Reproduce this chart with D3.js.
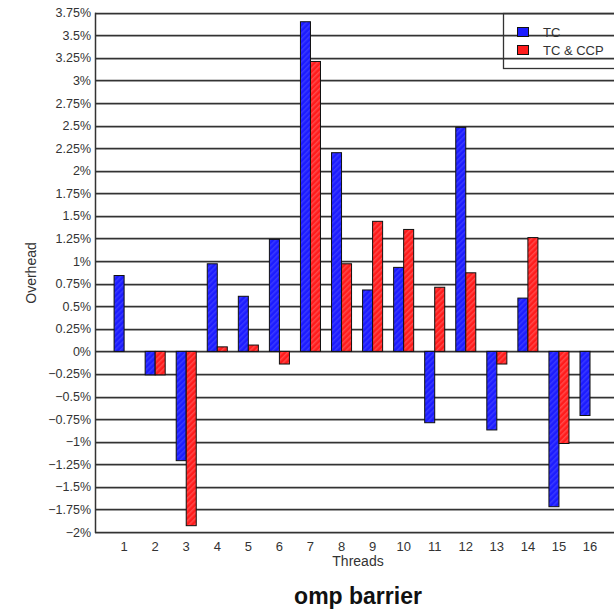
<!DOCTYPE html>
<html><head><meta charset="utf-8">
<script src="https://cdn.jsdelivr.net/npm/d3@7"></script>
<style>body{margin:0;background:#fff}svg{display:block}</style>
</head><body>
<script>
const categories = ["1","2","3","4","5","6","7","8","9","10","11","12","13","14","15","16"];
const tcValues  = [0.84,-0.26,-1.21,0.97,0.61,1.24,3.65,2.20,0.68,0.93,-0.79,2.48,-0.87,0.59,-1.72,-0.71];
const ccpValues = [0,-0.26,-1.93,0.05,0.07,-0.14,3.21,0.97,1.44,1.35,0.71,0.87,-0.14,1.26,-1.02,0];
const seriesNames = ["TC","TC & CCP"];
const yTicks = d3.range(-2, 3.76, 0.25);

(function(){
const W = 614, H = 612;
const svg = d3.select("body").append("svg").attr("width", W).attr("height", H);
const font = "Liberation Sans, Arial, sans-serif";

const defs = svg.append("defs");
function hatch(id, base, stripe){
  const p = defs.append("pattern").attr("id", id).attr("patternUnits","userSpaceOnUse")
    .attr("width",4).attr("height",4).attr("patternTransform","rotate(45)");
  p.append("rect").attr("width",4).attr("height",4).attr("fill",base);
  p.append("rect").attr("width",1.5).attr("height",4).attr("fill",stripe);
}
hatch("hb","#1c1cff","#3a3aff");
hatch("hr","#ff1c1c","#ff4a4a");
const fills = ["url(#hb)","url(#hr)"];
const swatch = ["#1c1cff","#ff1c1c"];

const pl = 95, pt = 12.7, pb = 532, pr = 640;
const y = d3.scaleLinear().domain([-2, 3.75]).range([pb, pt]);
const x = d3.scaleBand().domain(categories).range([108.5, 108.5 + 31.07*16]).paddingInner(0.355).paddingOuter(0.18);
const xs = d3.scaleBand().domain([0,1]).range([0, x.bandwidth()]);

const g = svg.append("g");
yTicks.forEach(t => {
  const yy = Math.round(y(t));
  g.append("line").attr("x1",pl).attr("x2",pr).attr("y1",yy+1.5).attr("y2",yy+1.5)
    .attr("stroke","#c0c0c0").attr("stroke-width",1);
  g.append("line").attr("x1",pl).attr("x2",pr).attr("y1",yy+0.5).attr("y2",yy+0.5)
    .attr("stroke","#333").attr("stroke-width",1.3);
});

const yAxis = d3.axisLeft(y).tickValues(yTicks).tickSize(0).tickPadding(4)
  .tickFormat(d => { const v = Math.round(d*100)/100; return (v<0?"\u2212":"") + Math.abs(v) + "%"; });
const ya = svg.append("g").attr("transform",`translate(${pl},0)`).call(yAxis);
ya.select(".domain").remove();
ya.selectAll("text").attr("font-family",font).attr("font-size",12.5).attr("fill","#333");
svg.append("line").attr("x1",pl+0.5).attr("x2",pl+0.5).attr("y1",pt).attr("y2",pb+1)
  .attr("stroke","#333").attr("stroke-width",1.5);

const xAxis = d3.axisBottom(x).tickSize(0).tickPadding(10);
const xa = svg.append("g").attr("transform",`translate(0,${pb})`).call(xAxis);
xa.select(".domain").remove();
xa.selectAll("text").attr("font-family",font).attr("font-size",13).attr("fill","#333");

const series = [tcValues, ccpValues];
series.forEach((vals, si) => {
  svg.append("g").selectAll("rect").data(vals.map((v,i)=>({v, c:categories[i]})).filter(d=>d.v!==0))
    .join("rect")
    .attr("x", d => x(d.c) + xs(si))
    .attr("width", xs.bandwidth())
    .attr("y", d => y(Math.max(0,d.v)))
    .attr("height", d => Math.abs(y(d.v) - y(0)))
    .attr("fill", fills[si]).attr("stroke","#111").attr("stroke-width",1);
});

svg.append("text").attr("x",358).attr("y",566).attr("text-anchor","middle")
  .attr("font-family",font).attr("font-size",14).attr("fill","#333").text("Threads");
svg.append("text").attr("transform","translate(36,273) rotate(-90)").attr("text-anchor","middle")
  .attr("font-family",font).attr("font-size",14).attr("fill","#333").text("Overhead");
svg.append("text").attr("x",358).attr("y",604).attr("text-anchor","middle")
  .attr("font-family",font).attr("font-size",23).attr("font-weight","bold").attr("fill","#111").text("omp barrier");

const lg = svg.append("g");
lg.append("rect").attr("x",503.5).attr("y",13.5).attr("width",140).attr("height",55)
  .attr("fill","none").attr("stroke","#333").attr("stroke-width",1.3);
seriesNames.forEach((n,i) => {
  const yy = 27 + i*18;
  lg.append("rect").attr("x",517.5).attr("y",yy+0.5).attr("width",11).attr("height",9)
    .attr("fill",swatch[i]).attr("stroke","#111");
  lg.append("text").attr("x",543).attr("y",yy+9.5).attr("font-family",font).attr("font-size",13)
    .attr("fill","#333").text(n);
});
})();
</script>
</body></html>
